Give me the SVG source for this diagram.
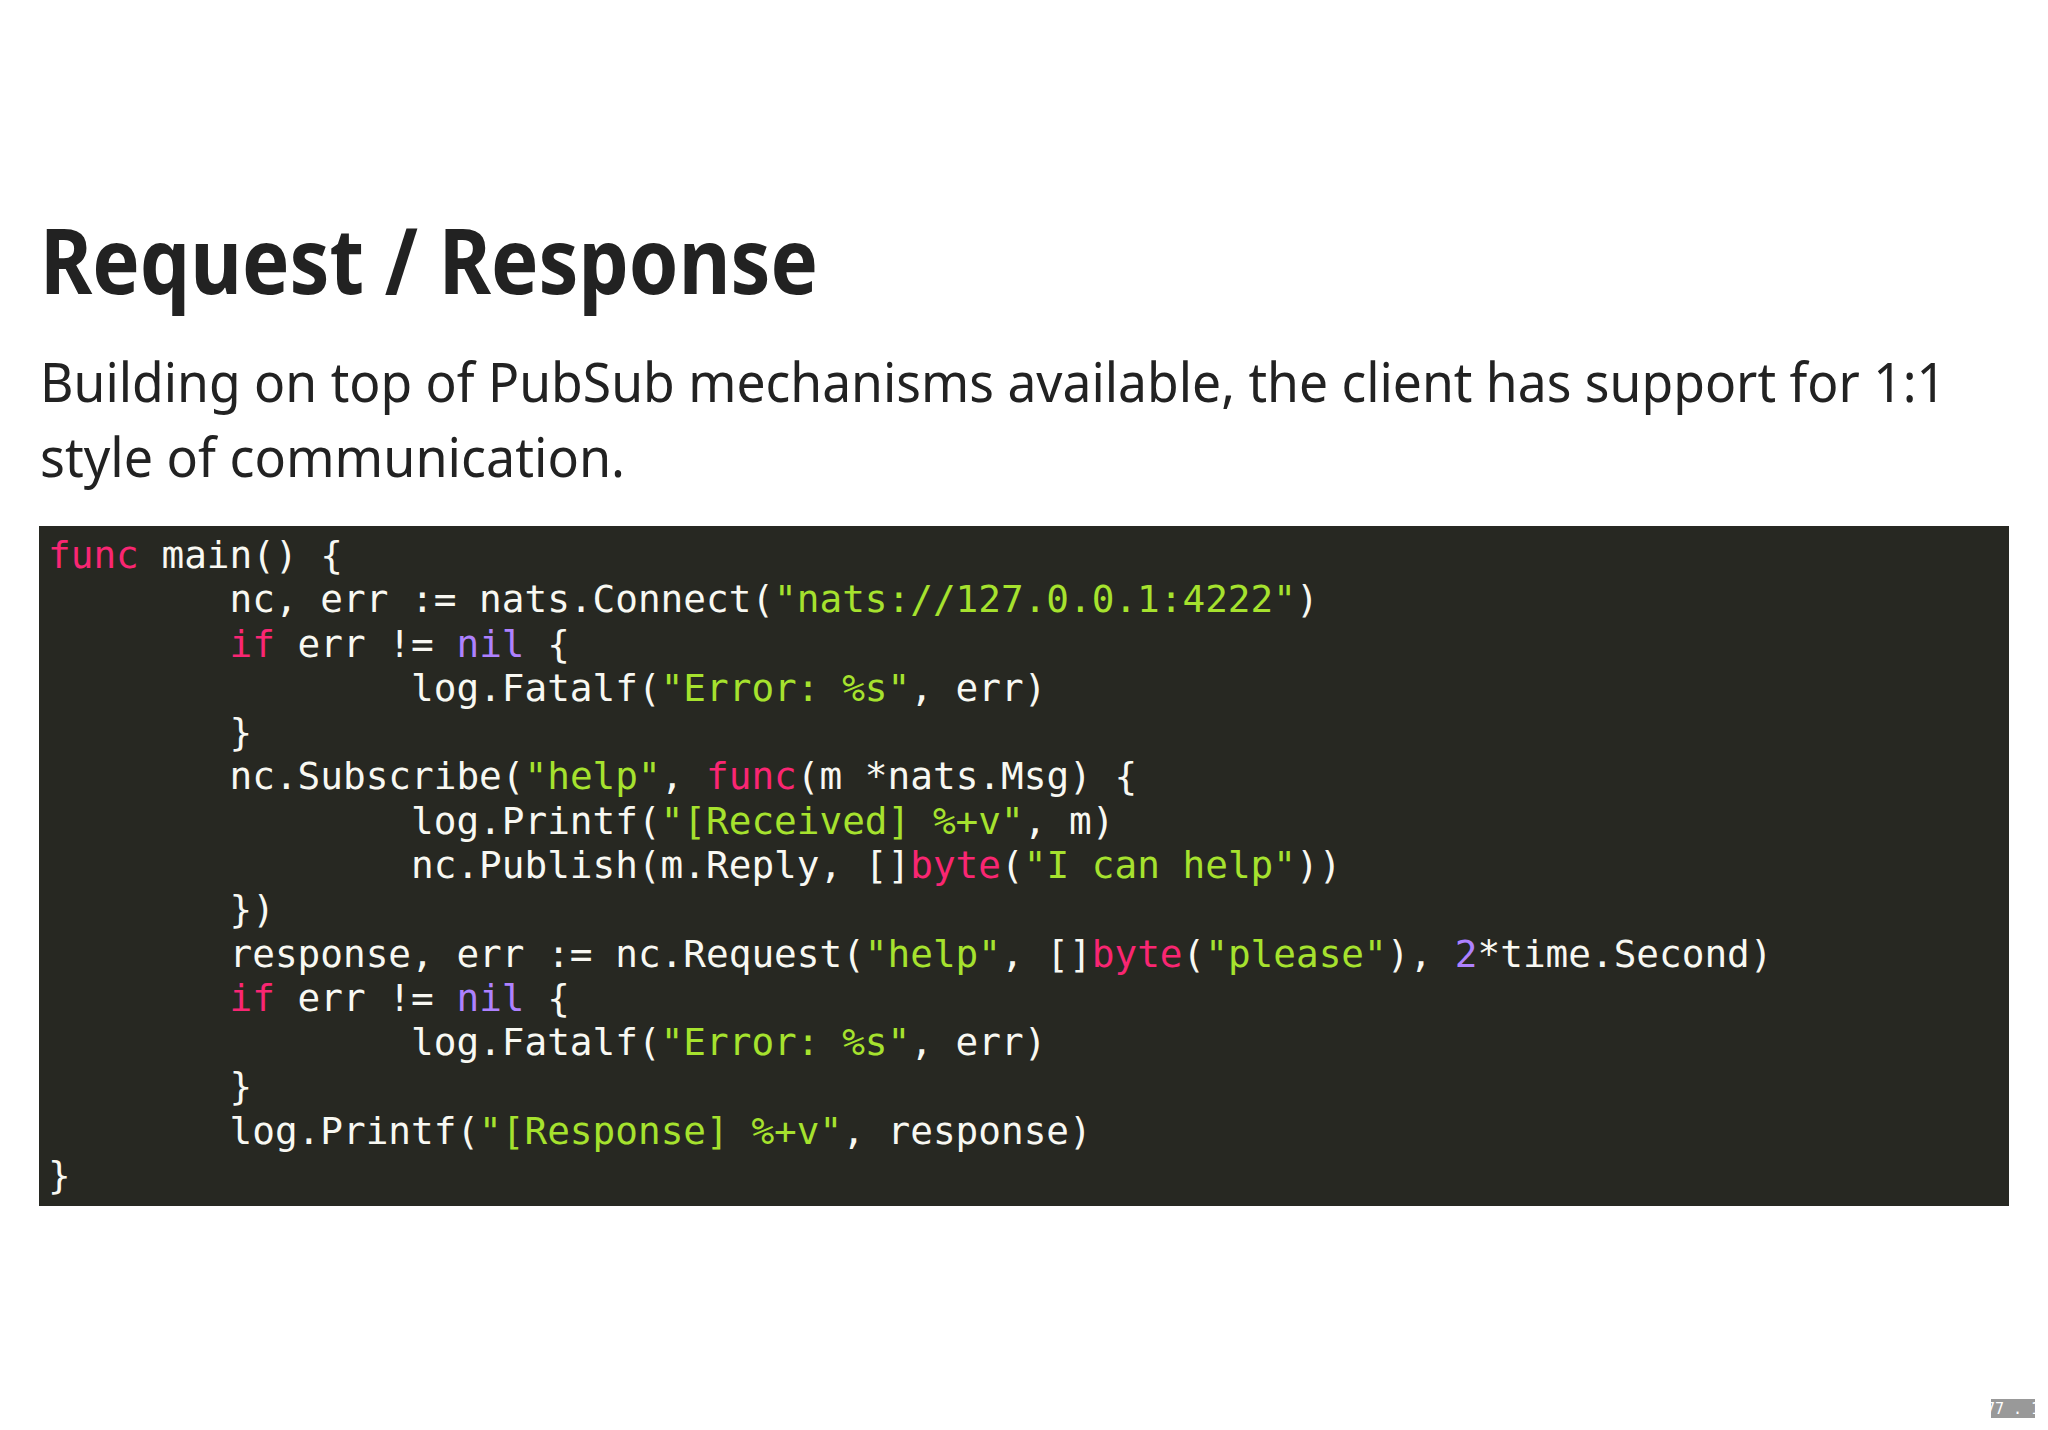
<svg xmlns="http://www.w3.org/2000/svg" width="2048" height="1430" viewBox="0 0 2048 1430">
<style>
.c{font-family:"DejaVu Sans Mono",monospace;font-size:37.7px;fill:#f8f8f2;white-space:pre}
.k{fill:#f92672}.s{fill:#a6e22e}.n{fill:#ae81ff}
.t{font-family:"Noto Sans","Liberation Sans",sans-serif;fill:#222}
</style>
<rect width="2048" height="1430" fill="#fff"/>
<g id="title"><text class="t" x="40" y="294" font-size="92" font-weight="bold" textLength="778" lengthAdjust="spacingAndGlyphs">Request / Response</text></g>
<g id="para">
<text class="t" x="40" y="402" font-size="54" textLength="1906" lengthAdjust="spacingAndGlyphs">Building on top of PubSub mechanisms available, the client has support for 1:1</text>
<text class="t" x="40" y="477" font-size="54" textLength="585" lengthAdjust="spacingAndGlyphs">style of communication.</text>
</g>
<g id="code">
<rect x="39" y="526" width="1970" height="680" fill="#272822"/>
<text class="c" xml:space="preserve" x="48" y="568"><tspan class="k">func</tspan> main() {</text>
<text class="c" xml:space="preserve" x="48" y="612">        nc, err := nats.Connect(<tspan class="s">"nats://127.0.0.1:4222"</tspan>)</text>
<text class="c" xml:space="preserve" x="48" y="657">        <tspan class="k">if</tspan> err != <tspan class="n">nil</tspan> {</text>
<text class="c" xml:space="preserve" x="48" y="701">                log.Fatalf(<tspan class="s">"Error: %s"</tspan>, err)</text>
<text class="c" xml:space="preserve" x="48" y="745">        }</text>
<text class="c" xml:space="preserve" x="48" y="789">        nc.Subscribe(<tspan class="s">"help"</tspan>, <tspan class="k">func</tspan>(m *nats.Msg) {</text>
<text class="c" xml:space="preserve" x="48" y="834">                log.Printf(<tspan class="s">"[Received] %+v"</tspan>, m)</text>
<text class="c" xml:space="preserve" x="48" y="878">                nc.Publish(m.Reply, []<tspan class="k">byte</tspan>(<tspan class="s">"I can help"</tspan>))</text>
<text class="c" xml:space="preserve" x="48" y="922">        })</text>
<text class="c" xml:space="preserve" x="48" y="967">        response, err := nc.Request(<tspan class="s">"help"</tspan>, []<tspan class="k">byte</tspan>(<tspan class="s">"please"</tspan>), <tspan class="n">2</tspan>*time.Second)</text>
<text class="c" xml:space="preserve" x="48" y="1011">        <tspan class="k">if</tspan> err != <tspan class="n">nil</tspan> {</text>
<text class="c" xml:space="preserve" x="48" y="1055">                log.Fatalf(<tspan class="s">"Error: %s"</tspan>, err)</text>
<text class="c" xml:space="preserve" x="48" y="1099">        }</text>
<text class="c" xml:space="preserve" x="48" y="1144">        log.Printf(<tspan class="s">"[Response] %+v"</tspan>, response)</text>
<text class="c" xml:space="preserve" x="48" y="1188">}</text>
</g>
<g id="page">
<rect x="1991" y="1399" width="44" height="19" fill="#999"/>
<text x="2013" y="1414" font-family="DejaVu Sans Mono,monospace" font-size="15" fill="#fff" text-anchor="middle">77 . 1</text>
</g>
</svg>
